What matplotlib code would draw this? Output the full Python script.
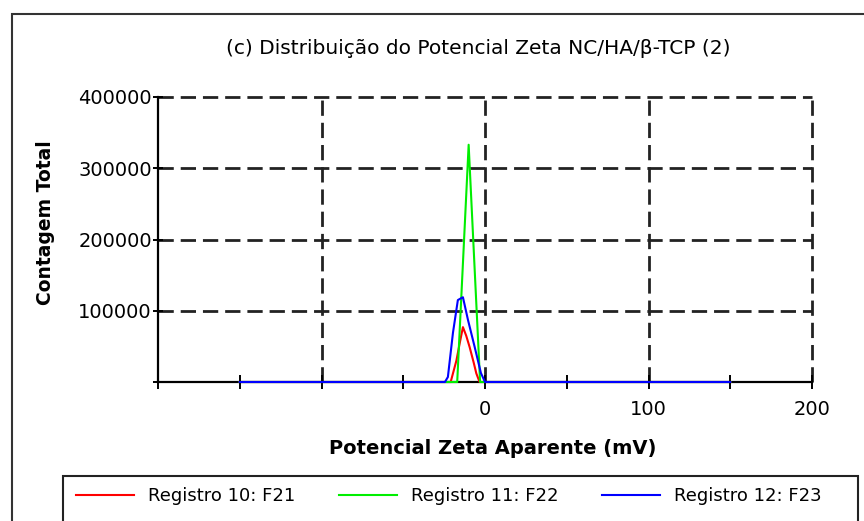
import matplotlib
matplotlib.use("Agg")
import matplotlib.pyplot as plt
from matplotlib.patches import Rectangle
from matplotlib.ticker import MultipleLocator, FuncFormatter

# data (mV, total count)
red_x = [-150, -21, -17.5, -15.5, -13.5, -11.5, -9.4, -7, -5.3, -3.3, 150]
red_y = [0, 0, 30000, 54000, 77000, 65000, 49000, 28000, 12000, 0, 0]
green_x = [-150, -17, -10, -3, 150]
green_y = [0, 0, 333000, 0, 0]
blue_x = [-150, -24.5, -22.7, -19.6, -16.6, -13.5, -10.4, -6.3, -2.5, 0, 150]
blue_y = [0, 0, 7000, 69000, 115000, 119000, 87000, 49000, 12600, 0, 0]
labels = ["Registro 10: F21", "Registro 11: F22", "Registro 12: F23"]
xlabels_shown = [0, 100, 200]

fig = plt.figure(figsize=(8.64, 5.21), dpi=100)
ax = fig.add_axes([158/864, 1-382/521, 654/864, 285/521])

l1, = ax.plot(red_x, red_y, color="#ff0000", lw=1.5, zorder=3, clip_on=False)
l2, = ax.plot(green_x, green_y, color="#00ee00", lw=1.5, zorder=3, clip_on=False)
l3, = ax.plot(blue_x, blue_y, color="#0000ff", lw=1.5, zorder=3, clip_on=False)

ax.set_xlim(-200, 200)
ax.set_ylim(0, 400000)
ax.xaxis.set_major_locator(MultipleLocator(50))
ax.xaxis.set_major_formatter(FuncFormatter(lambda v, p: str(int(v)) if int(v) in xlabels_shown else ""))
ax.yaxis.set_major_locator(MultipleLocator(100000))
ax.yaxis.set_major_formatter(FuncFormatter(lambda v, p: str(int(v)) if v > 0 else ""))

for v in [-100, 0, 100, 200]:
    ax.axvline(v, color="#222222", lw=2, ls=(0, (5.5, 2.5)), zorder=0.5, clip_on=False)
for v in [100000, 200000, 300000, 400000]:
    ax.axhline(v, color="#222222", lw=2, ls=(0, (5.5, 2.5)), zorder=0.5, clip_on=False)

ax.spines["top"].set_visible(False)
ax.spines["right"].set_visible(False)
ax.spines["left"].set_linewidth(1.6)
ax.spines["bottom"].set_linewidth(1.6)
ax.tick_params(axis="y", direction="inout", length=7, width=1.4, pad=1, labelsize=14)
ax.tick_params(axis="x", direction="inout", length=10, width=1.4, pad=8, labelsize=14)

ax.set_ylabel("Contagem Total", fontsize=13.5, fontweight="bold")
ax.yaxis.set_label_coords(-0.158, 0.56)
ax.set_xlabel("Potencial Zeta Aparente (mV)", fontsize=14, fontweight="bold")
ax.xaxis.set_label_coords(0.511, -0.2)

fig.text(478/864, 1-48/521, "(c) Distribuição do Potencial Zeta NC/HA/β-TCP (2)",
         ha="center", va="center", fontsize=14.5)

# outer frame and legend box (both run off the image edge)
fig.patches.append(Rectangle((12/864, -0.2), 1.1, 1.2-14/521, transform=fig.transFigure,
                             fill=False, lw=1.5, ec="#333333"))
fig.patches.append(Rectangle((63/864, -0.2), 795/864, 0.2+1-476/521, transform=fig.transFigure,
                             fill=False, lw=1.5, ec="#222222"))
fig.legend([l1, l2, l3], labels, loc="upper left", bbox_to_anchor=(60/864, 1-471/521),
           ncol=3, frameon=False, fontsize=13, handlelength=3.2, handletextpad=0.8,
           columnspacing=2.4)

fig.savefig("out.png", dpi=100)
